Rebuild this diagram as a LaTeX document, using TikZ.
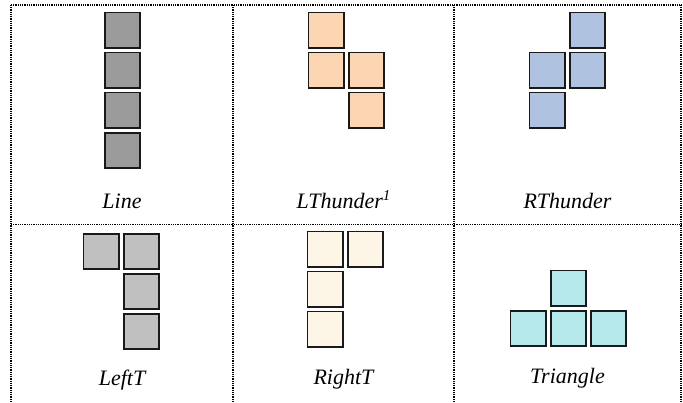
\documentclass[tikz,border=0pt]{standalone}
\usepackage{fontspec}
\setmainfont{Liberation Serif}
\definecolor{cgray}{HTML}{9B9B9B}
\definecolor{cpeach}{HTML}{FCD5B2}
\definecolor{cblue}{HTML}{AFC3E0}
\definecolor{clgray}{HTML}{C0C0C0}
\definecolor{ccream}{HTML}{FDF6E6}
\definecolor{ccyan}{HTML}{B5E9EC}
\begin{document}
\begin{tikzpicture}[x=1pt,y=-1pt,
  cell/.style={draw=black!90,line width=1.8pt,minimum size=35.2pt,inner sep=0pt,fill=#1},
  grid/.style={draw=black,line width=1.1pt,dash pattern=on 0.9pt off 0.9pt},
  lbl/.style={font=\fontsize{22}{25}\selectfont\itshape,inner sep=0pt}]
\useasboundingbox (0,0) rectangle (683,402);
% table
\coordinate (tl) at (11,5); \coordinate (tr) at (681,5);
\coordinate (bl) at (11,402); \coordinate (br) at (681,402);
\coordinate (t1) at (233,5); \coordinate (b1) at (233,402);
\coordinate (t2) at (454,5); \coordinate (b2) at (454,402);
\coordinate (ml) at (11,224.5); \coordinate (mr) at (681,224.5);
\draw[grid] (tl) -- (tr);
\draw[grid] (tl) -- (bl);
\draw[grid] (t1) -- (b1);
\draw[grid] (t2) -- (b2);
\draw[grid] (tr) -- (br);
\draw[grid] (ml) -- (mr);
% Line
\node[cell=cgray] (l1) at (122.5,30) {};
\node[cell=cgray] (l2) at (122.5,70) {};
\node[cell=cgray] (l3) at (122.5,110) {};
\node[cell=cgray] (l4) at (122.5,150.5) {};
% LThunder
\node[cell=cpeach] (a1) at (326,30) {};
\node[cell=cpeach] (a2) at (326,70) {};
\node[cell=cpeach] (a3) at (366.5,70) {};
\node[cell=cpeach] (a4) at (366.5,110) {};
% RThunder
\node[cell=cblue] (r1) at (587.5,30) {};
\node[cell=cblue] (r2) at (547,70) {};
\node[cell=cblue] (r3) at (587.5,70) {};
\node[cell=cblue] (r4) at (547,110) {};
% LeftT
\node[cell=clgray] (f1) at (101,251.5) {};
\node[cell=clgray] (f2) at (141.5,251.5) {};
\node[cell=clgray] (f3) at (141.5,291.5) {};
\node[cell=clgray] (f4) at (141.5,331.5) {};
% RightT
\node[cell=ccream] (g1) at (325,249) {};
\node[cell=ccream] (g2) at (365.5,249) {};
\node[cell=ccream] (g3) at (325,289) {};
\node[cell=ccream] (g4) at (325,329) {};
% Triangle
\node[cell=ccyan] (t5) at (568.3,288) {};
\node[cell=ccyan] (t6) at (528,328.3) {};
\node[cell=ccyan] (t7) at (568.3,328.3) {};
\node[cell=ccyan] (t8) at (608.7,328.3) {};
% labels
\node[lbl,anchor=base] (n1) at (122,208.3) {Line};
\node[lbl,anchor=base] (n2) at (343.5,208.3) {LThunder\raisebox{7.5pt}{\fontsize{15}{16}\selectfont 1}};
\node[lbl,anchor=base] (n3) at (567.5,208.3) {RThunder};
\node[lbl,anchor=base] (n4) at (122,385.5) {LeftT};
\node[lbl,anchor=base] (n5) at (343.5,384) {RightT};
\node[lbl,anchor=base] (n6) at (567.5,383) {Triangle};
\end{tikzpicture}
\end{document}
